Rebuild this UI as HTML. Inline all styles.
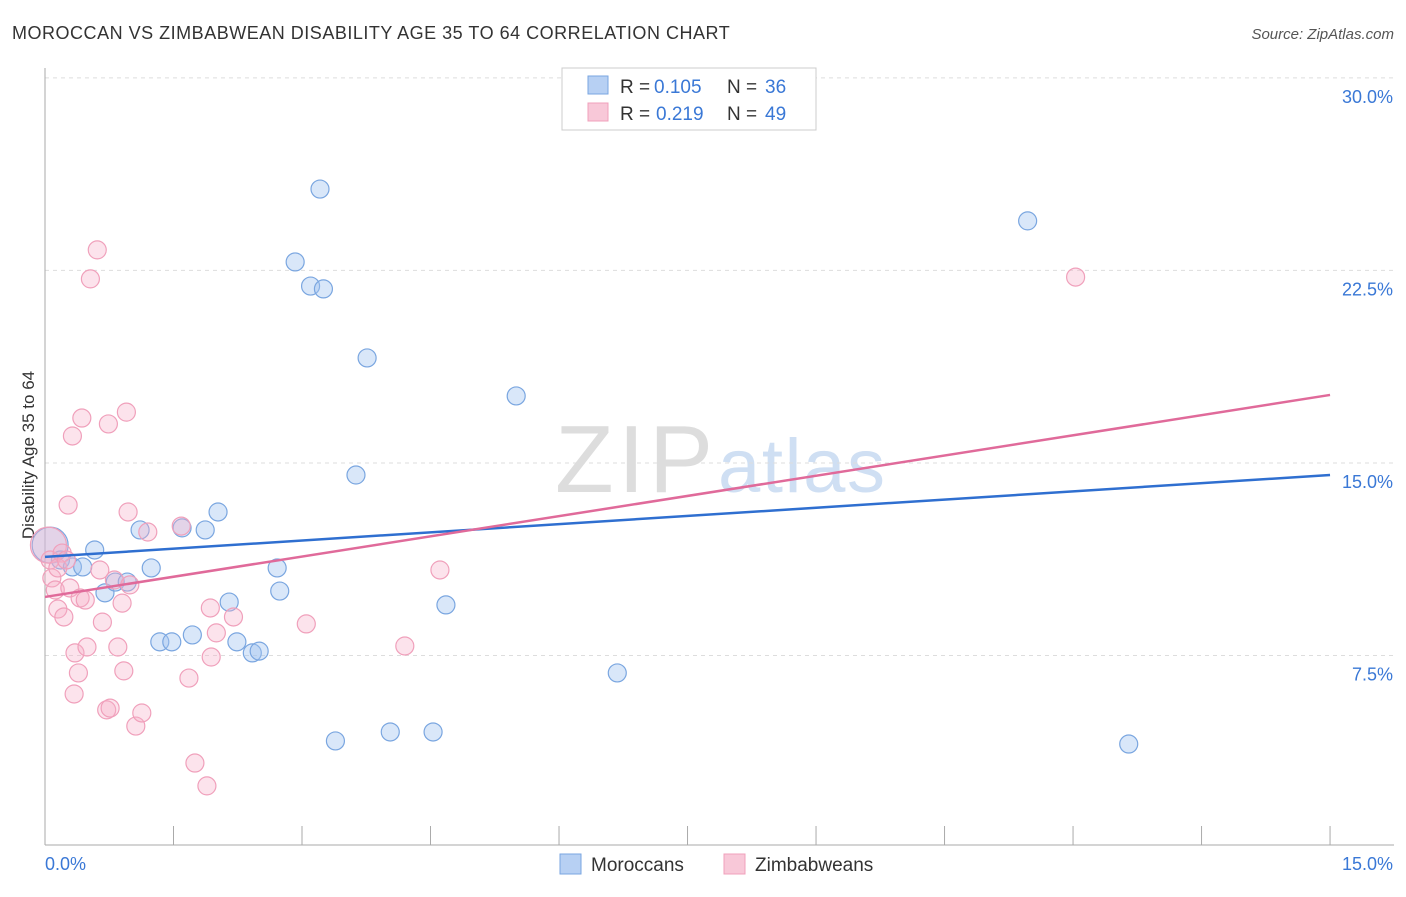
<!DOCTYPE html>
<html><head><meta charset="utf-8"><style>
body{margin:0;background:#fff;font-family:"Liberation Sans",sans-serif;}
svg text{font-family:"Liberation Sans",sans-serif;}
</style></head><body>
<svg id="c" width="1406" height="892">
<text x="12" y="39" font-size="18" fill="#333" letter-spacing="0.3" textLength="718">MOROCCAN VS ZIMBABWEAN DISABILITY AGE 35 TO 64 CORRELATION CHART</text>
<text x="1394" y="39" font-size="15" fill="#555" font-style="italic" text-anchor="end">Source: ZipAtlas.com</text>
<text x="34" y="455" font-size="17" fill="#333" text-anchor="middle" transform="rotate(-90 34 455)">Disability Age 35 to 64</text>
<text x="555" y="492" font-size="96" fill="#ddd" textLength="158" font-family="Liberation Serif">ZIP</text>
<text x="718" y="492" font-size="76" fill="#cfdff3" textLength="167">atlas</text>
<g id="grid"></g><g id="pts"></g><g id="lines"></g>
<g>
<rect x="562" y="68" width="254" height="62" fill="#fff" stroke="#ccc"/>
<rect x="588" y="76" width="20" height="18" fill="#b7d0f3" stroke="#7aa6e0"/>
<text x="620" y="93" font-size="19" fill="#333">R =</text><text x="654" y="93" font-size="19" fill="#3a78d6">0.105</text>
<text x="727" y="93" font-size="19" fill="#333">N =</text><text x="765" y="93" font-size="19" fill="#3a78d6">36</text>
<rect x="588" y="103" width="20" height="18" fill="#f8c8d8" stroke="#f0a0bb"/>
<text x="620" y="120" font-size="19" fill="#333">R =</text><text x="656" y="120" font-size="19" fill="#3a78d6">0.219</text>
<text x="727" y="120" font-size="19" fill="#333">N =</text><text x="765" y="120" font-size="19" fill="#3a78d6">49</text>
</g>
<g>
<rect x="560" y="854" width="21" height="20" fill="#b7d0f3" stroke="#7aa6e0"/>
<text x="591" y="871" font-size="19" fill="#333">Moroccans</text>
<rect x="724" y="854" width="21" height="20" fill="#f8c8d8" stroke="#f0a0bb"/>
<text x="755" y="871" font-size="19" fill="#333">Zimbabweans</text>
</g>
</svg>
<script>
const blueX=[0.06,0.18,0.32,0.44,0.58,0.70,0.82,0.96,1.11,1.24,1.34,1.48,1.60,1.72,1.87,2.02,2.15,2.24,2.42,2.50,2.71,2.74,2.92,3.10,3.21,3.25,3.39,3.63,3.76,4.03,4.53,4.68,5.50,6.68,11.47,12.65];
const blueY=[11.80,11.22,10.95,10.95,11.61,9.94,10.36,10.36,12.39,10.91,8.03,8.03,12.47,8.30,12.39,13.09,9.58,8.03,7.60,7.67,10.91,10.01,22.83,21.89,25.67,21.78,4.17,14.53,19.09,4.52,4.52,9.47,17.61,6.82,24.43,4.05];
const pinkX=[0.04,0.06,0.08,0.12,0.15,0.20,0.22,0.27,0.29,0.32,0.34,0.35,0.39,0.41,0.43,0.47,0.49,0.53,0.61,0.67,0.72,0.74,0.76,0.81,0.85,0.90,0.92,0.95,0.97,0.99,1.06,1.13,1.20,1.59,1.68,1.75,1.89,1.93,1.94,2.00,2.20,3.05,4.20,4.61,12.03,0.15,0.25,0.64];
const pinkY=[11.80,11.22,10.52,10.05,9.31,11.49,9.00,13.36,10.13,16.05,6.00,7.60,6.82,9.74,16.75,9.66,7.83,22.17,23.30,8.80,5.38,16.52,5.45,10.44,7.83,9.54,6.90,16.98,13.09,10.25,4.75,5.26,12.31,12.54,6.62,3.31,2.42,9.35,7.44,8.38,9.00,8.73,7.87,10.83,22.24,10.91,11.22,10.83];
const yTicks=[7.5,15,22.5,30];
const yTickLabels=["7.5%","15.0%","22.5%","30.0%"];
const blueTrend=[11.34,14.53];
const pinkTrend=[9.78,17.65];
const NS="http://www.w3.org/2000/svg";
const sx=v=>45+v*85.67, sy=v=>848-v*25.67;
function mk(t,a,p){const e=document.createElementNS(NS,t);for(const k in a)e.setAttribute(k,a[k]);p.appendChild(e);return e;}
const grid=document.getElementById('grid'),pts=document.getElementById('pts'),lines=document.getElementById('lines');
yTicks.forEach((t,i)=>{
 const l=mk('line',{x1:45,x2:1394,y1:sy(t),y2:sy(t),stroke:'#ddd','stroke-dasharray':'4,4'},grid);
 
 
 const tx=mk('text',{x:1393,y:sy(t)+25,'font-size':18,fill:'#3a78d6','text-anchor':'end'},grid);
 tx.textContent=yTickLabels[i];
 
 
});
const ax=mk('line',{x1:45,x2:45,y1:68,y2:845,stroke:'#aaa'},grid);


const bx=mk('line',{x1:45,x2:1394,y1:845,y2:845,stroke:'#aaa'},grid);


for(let i=0;i<=10;i++){const t=mk('line',{x1:sx(i*1.5),x2:sx(i*1.5),y1:826,y2:845,stroke:'#aaa'},grid);
 
 }
[["0.0%",45,"start"],["15.0%",1393,"end"]].forEach(a=>{const t=mk('text',{x:a[1],y:870,'font-size':18,fill:'#3a78d6','text-anchor':a[2]},grid);t.textContent=a[0];
 
 });
function dots(X,Y,fill,stroke,name){X.forEach((x,i)=>{const r=i===0?18:9;
 const c=mk('circle',{cx:sx(x),cy:sy(Y[i]),r:r,fill:fill,stroke:stroke,'stroke-width':1.2},pts);
 
 });}
dots(blueX,blueY,'rgba(160,195,240,0.4)','#7aa6e0','moroccan-point');
dots(pinkX,pinkY,'rgba(245,175,200,0.35)','#f0a0bb','zimbabwean-point');
const bl=mk('line',{x1:sx(0),x2:sx(15),y1:sy(blueTrend[0]),y2:sy(blueTrend[1]),stroke:'#2f6fd0','stroke-width':2.5},lines);


const pl=mk('line',{x1:sx(0),x2:sx(15),y1:sy(pinkTrend[0]),y2:sy(pinkTrend[1]),stroke:'#e06a9a','stroke-width':2.5},lines);


</script>
</body></html>
